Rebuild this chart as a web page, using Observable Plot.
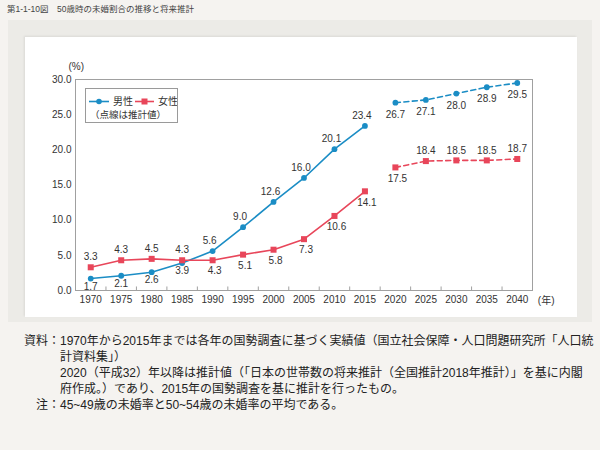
<!DOCTYPE html>
<html><head><meta charset="utf-8">
<script src="https://cdn.jsdelivr.net/npm/d3@7"></script>
<script src="https://cdn.jsdelivr.net/npm/@observablehq/plot@0.6"></script>
<style>
html,body{margin:0;padding:0;}
body{width:600px;height:450px;position:relative;background:#f5f3f0;font-family:"Liberation Sans","Noto Sans CJK JP",sans-serif;color:#333;overflow:hidden;}
.abs{position:absolute;white-space:nowrap;}
#title{left:7px;top:2px;font-size:8.5px;color:#444;}
#outer{left:8px;top:20px;width:584px;height:302px;background:#ecebe7;}
#panel{left:25px;top:37px;width:552px;height:280px;background:#fff;box-shadow:-1px -1px 2px rgba(0,0,0,0.08);}
#legend{left:85px;top:88px;width:91px;height:33px;border:1px solid #9a9a9a;background:#fff;font-size:10px;}
.note{font-size:12px;color:#222;left:60px;}
.lab{position:absolute;right:540px;white-space:nowrap;font-size:12px;color:#222;}
</style></head>
<body>
<div id="title" class="abs">第1-1-10図　50歳時の未婚割合の推移と将来推計</div>
<div id="outer" class="abs"></div>
<div id="panel" class="abs"></div>
<div id="chart" class="abs" style="left:25px;top:37px;"></div>
<div id="legend" class="abs">
  <svg width="91" height="33" style="position:absolute;left:0;top:0">
    <line x1="3" x2="23" y1="12.5" y2="12.5" stroke="#1b8dc5" stroke-width="1.6"/>
    <circle cx="13" cy="12.5" r="2.8" fill="#1b8dc5"/>
    <text x="27" y="16" font-size="10" fill="#333">男性</text>
    <line x1="49" x2="68" y1="12.5" y2="12.5" stroke="#e8465a" stroke-width="1.6"/>
    <rect x="55.5" y="9.5" width="6" height="6" fill="#e8465a"/>
    <text x="72" y="16" font-size="10" fill="#333">女性</text>
    <text x="4" y="28.5" font-size="9.5" fill="#333">（点線は推計値）</text>
  </svg>
</div>
<div class="lab" style="top:331px;">資料：</div>
<div class="abs note" style="top:331px;">1970年から2015年までは各年の国勢調査に基づく実績値（国立社会保障・人口問題研究所「人口統</div>
<div class="abs note" style="top:347px;">計資料集」）</div>
<div class="abs note" style="top:363px;">2020（平成32）年以降は推計値（「日本の世帯数の将来推計（全国推計2018年推計）」を基に内閣</div>
<div class="abs note" style="top:379px;">府作成。）であり、2015年の国勢調査を基に推計を行ったもの。</div>
<div class="lab" style="top:395px;">注：</div>
<div class="abs note" style="top:395px;">45~49歳の未婚率と50~54歳の未婚率の平均である。</div>
<script>
const years = [1970,1975,1980,1985,1990,1995,2000,2005,2010,2015,2020,2025,2030,2035,2040];
const maleValues = [1.7,2.1,2.6,3.9,5.6,9.0,12.6,16.0,20.1,23.4,26.7,27.1,28.0,28.9,29.5];
const femaleValues = [3.3,4.3,4.5,4.3,4.3,5.1,5.8,7.3,10.6,14.1,17.5,18.4,18.5,18.5,18.7];
const yTicks = [0,5,10,15,20,25,30];
const firstEstimateYear = 2020;

const blue = "#1b8dc5", red = "#e8465a";
const male = years.map((year,i)=>({year, value: maleValues[i], est: year >= firstEstimateYear}));
const female = years.map((year,i)=>({year, value: femaleValues[i], est: year >= firstEstimateYear}));
const step = years[1]-years[0];
const boundaries = years.slice(0,-1).map(y=>y+step/2);

// label placement rules
const maleLowBelow = d => d.year <= 1985;
const maleAbove = d => d.year > 1985 && !d.est;
const femaleAbove = d => d.year <= 1985 || (d.est && d.year > firstEstimateYear);
const fmt = d3.format(".1f");
const lbl = d => fmt(d.value);

const chart = Plot.plot({
  width: 552, height: 280,
  marginLeft: 50, marginRight: 45, marginTop: 42, marginBottom: 27,
  style: {fontFamily: '"Liberation Sans","Noto Sans CJK JP",sans-serif', fontSize: "10px", color: "#333", background: "transparent", overflow: "visible"},
  x: {domain: [years[0]-step/2, years[years.length-1]+step/2]},
  y: {domain: [0, 30]},
  marks: [
    Plot.frame({stroke: "#a0a0a0"}),
    Plot.ruleX(boundaries, {y1: 0, y2: 0.5, stroke: "#a0a0a0"}),
    Plot.axisY({ticks: yTicks, tickSize: 0, tickPadding: 4, tickFormat: fmt, label: null}),
    Plot.axisX({ticks: years, tickSize: 0, tickPadding: 5, tickFormat: d => String(d), label: null}),
    Plot.text(["(%)"], {frameAnchor: "top-left", dx: -7, dy: -17, fontSize: 10}),
    Plot.text(["(年)"], {frameAnchor: "bottom-right", dx: 22, dy: 13, fontSize: 10}),
    Plot.line(male.filter(d=>!d.est), {x:"year", y:"value", stroke: blue, strokeWidth: 1.6}),
    Plot.line(male.filter(d=>d.est), {x:"year", y:"value", stroke: blue, strokeWidth: 1.6, strokeDasharray: "5,3.5"}),
    Plot.line(female.filter(d=>!d.est), {x:"year", y:"value", stroke: red, strokeWidth: 1.6}),
    Plot.line(female.filter(d=>d.est), {x:"year", y:"value", stroke: red, strokeWidth: 1.6, strokeDasharray: "5,3.5"}),
    Plot.dot(male, {x:"year", y:"value", r: 2.9, fill: blue}),
    Plot.dot(female, {x:"year", y:"value", r: 3.4, symbol: "square", fill: red}),
    Plot.text(male.filter(maleLowBelow), {x:"year", y:"value", text: lbl, dy: 8, fill: "#333"}),
    Plot.text(male.filter(d=>d.est), {x:"year", y:"value", text: lbl, dy: 12, fill: "#333"}),
    Plot.text(male.filter(maleAbove), {x:"year", y:"value", text: lbl, dy: -10, dx: -3, fill: "#333"}),
    Plot.text(female.filter(femaleAbove), {x:"year", y:"value", text: lbl, dy: -10, fill: "#333"}),
    Plot.text(female.filter(d=>!femaleAbove(d)), {x:"year", y:"value", text: lbl, dy: 11, dx: 2, fill: "#333"})
  ]
});
document.getElementById("chart").appendChild(chart);
</script>
</body></html>
